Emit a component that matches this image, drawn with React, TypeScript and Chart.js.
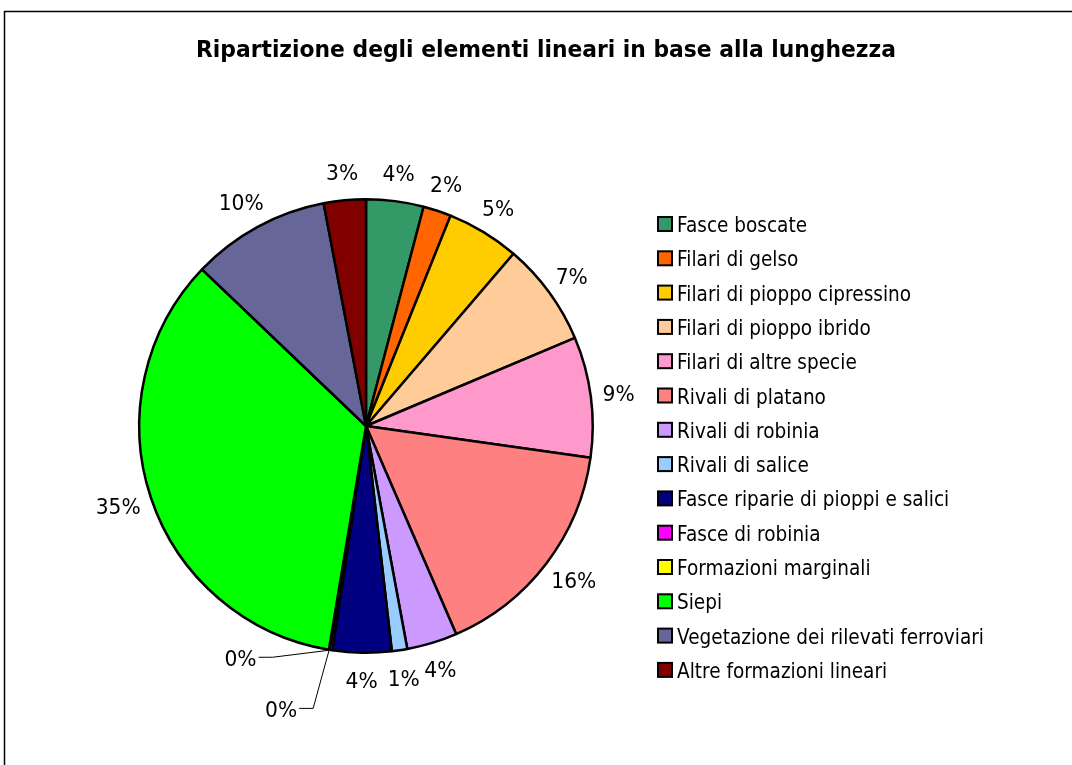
import React, { useEffect, useRef } from "react";
import { Chart, registerables } from "chart.js";

Chart.register(...registerables);

const TITLE = "Ripartizione degli elementi lineari in base alla lunghezza";

const categories = [
  "Fasce boscate",
  "Filari di gelso",
  "Filari di pioppo cipressino",
  "Filari di pioppo ibrido",
  "Filari di altre specie",
  "Rivali di platano",
  "Rivali di robinia",
  "Rivali di salice",
  "Fasce riparie di pioppi e salici",
  "Fasce di robinia",
  "Formazioni marginali",
  "Siepi",
  "Vegetazione dei rilevati ferroviari",
  "Altre formazioni lineari",
];

const values = [4.1, 2.0, 5.2, 7.4, 8.6, 16.3, 3.6, 1.1, 4.2, 0.2, 0.05, 34.6, 9.9, 3.0];

const colors = [
  "#339966",
  "#FF6600",
  "#FFCC00",
  "#FFCC99",
  "#FF99CC",
  "#FF8080",
  "#CC99FF",
  "#99CCFF",
  "#000080",
  "#FF00FF",
  "#FFFF00",
  "#00FF00",
  "#666699",
  "#800000",
];

// leader-line label placement for tiny slices: [index, canvas angle (deg), distance as fraction of radius]
const leaderLabels: [number, number, number][] = [
  [9, 112, 1.1],
  [10, 100.6, 1.267],
];

const FONT = "'DejaVu Sans', Verdana, sans-serif";

function scaledText(
  ctx: CanvasRenderingContext2D,
  text: string,
  x: number,
  y: number,
  align: CanvasTextAlign,
  sx: number
) {
  ctx.save();
  ctx.translate(x, y);
  ctx.scale(sx, 1);
  ctx.textAlign = align;
  ctx.textBaseline = "alphabetic";
  ctx.fillText(text, 0, 0);
  ctx.restore();
}

const drawPlugin = {
  id: "customDraw",
  afterDraw(chart: any) {
    const ctx = chart.ctx as CanvasRenderingContext2D;
    ctx.save();
    // frame
    ctx.strokeStyle = "#000";
    ctx.lineWidth = 1.5;
    ctx.strokeRect(4.5, 11.5, 1084, 800);

    // title
    ctx.fillStyle = "#000";
    ctx.font = `bold 23px ${FONT}`;
    const tScale = 700 / ctx.measureText(TITLE).width;
    scaledText(ctx, TITLE, 546, 57, "center", tScale);

    // data labels
    const meta = chart.getDatasetMeta(0);
    const total = values.reduce((a, b) => a + b, 0);
    ctx.font = `21px ${FONT}`;
    const lScale = 45 / ctx.measureText("35%").width;
    const capH = 15.5;
    const leaderIdx = leaderLabels.map((l) => l[0]);
    meta.data.forEach((arc: any, i: number) => {
      const pct = Math.round((values[i] / total) * 100);
      const text = pct + "%";
      const R = arc.outerRadius;
      const mid = (arc.startAngle + arc.endAngle) / 2;
      const ux = Math.cos(mid);
      const uy = Math.sin(mid);
      const li = leaderIdx.indexOf(i);
      if (li >= 0) {
        const [, angDeg, frac] = leaderLabels[li];
        const a = (angDeg * Math.PI) / 180;
        const sx = arc.x + R * ux;
        const sy = arc.y + R * uy;
        const ex = arc.x + R * frac * Math.cos(a);
        const ey = arc.y + R * frac * Math.sin(a);
        ctx.strokeStyle = "#000";
        ctx.lineWidth = 1;
        ctx.beginPath();
        ctx.moveTo(sx, sy);
        ctx.lineTo(ex, ey);
        ctx.lineTo(ex - 14, ey);
        ctx.stroke();
        scaledText(ctx, text, ex - 16, ey + capH / 2 + 1, "right", lScale);
        return;
      }
      const w = ctx.measureText(text).width * lScale;
      const h = 32;
      const gap = 12;
      const px = arc.x + (R + gap) * ux;
      const py = arc.y + (R + gap) * uy;
      const cx = px + (ux * w) / 2;
      const cy = py + (uy * h) / 2;
      scaledText(ctx, text, cx, cy + capH / 2, "center", lScale);
    });

    // legend
    ctx.font = `21px ${FONT}`;
    const legScale = 307 / ctx.measureText(categories[12]).width;
    categories.forEach((c, i) => {
      const y = 224 + i * 34.3;
      ctx.fillStyle = colors[i];
      ctx.fillRect(658, y - 7, 14, 14);
      ctx.strokeStyle = "#000";
      ctx.lineWidth = 2;
      ctx.strokeRect(658, y - 7, 14, 14);
      ctx.fillStyle = "#000";
      scaledText(ctx, c, 677, y + 8, "left", legScale);
    });
    ctx.restore();
  },
};

export default function App() {
  const ref = useRef<HTMLCanvasElement | null>(null);
  useEffect(() => {
    if (!ref.current) return;
    const chart = new Chart(ref.current, {
      type: "pie",
      data: {
        labels: categories,
        datasets: [
          {
            data: values,
            backgroundColor: colors,
            borderColor: "#000",
            borderWidth: 2.5,
          },
        ],
      },
      options: {
        animation: false,
        responsive: false,
        maintainAspectRatio: false,
        layout: { padding: { left: 138, top: 198, right: 478, bottom: 111 } },
        plugins: {
          legend: { display: false },
          title: { display: false },
          tooltip: { enabled: false },
        },
      },
      plugins: [drawPlugin],
    });
    return () => chart.destroy();
  }, []);
  return (
    <div style={{ position: "absolute", left: 0, top: 0, width: 1072, height: 765, background: "#fff" }}>
      <canvas ref={ref} width={1072} height={765} style={{ width: 1072, height: 765 }} />
    </div>
  );
}
